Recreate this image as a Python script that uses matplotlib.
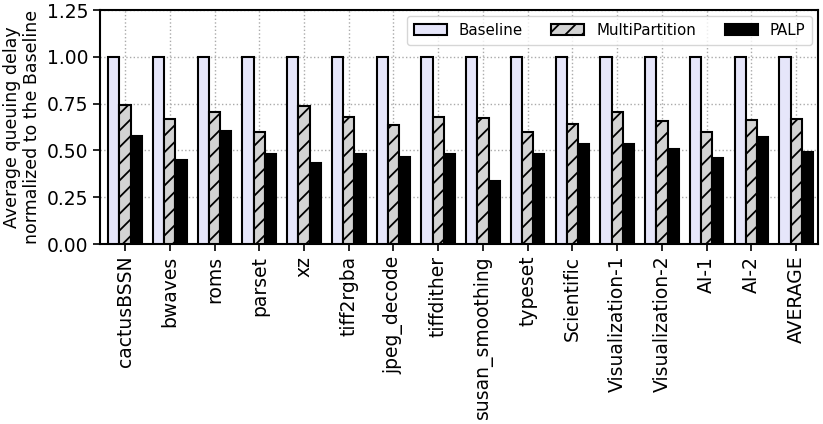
import matplotlib
matplotlib.use("Agg")
import matplotlib.pyplot as plt
import numpy as np

categories = ["cactusBSSN", "bwaves", "roms", "parset", "xz", "tiff2rgba",
              "jpeg_decode", "tiffdither", "susan_smoothing", "typeset",
              "Scientific", "Visualization-1", "Visualization-2", "AI-1",
              "AI-2", "AVERAGE"]
baseline = [1.0] * 16
multipartition = [0.745, 0.67, 0.705, 0.60, 0.74, 0.68, 0.635, 0.68, 0.672,
                  0.60, 0.64, 0.706, 0.659, 0.60, 0.663, 0.668]
palp = [0.575, 0.45, 0.605, 0.48, 0.435, 0.48, 0.465, 0.481, 0.337, 0.481,
        0.533, 0.536, 0.506, 0.458, 0.574, 0.494]

plt.rcParams['hatch.linewidth'] = 1.3
fig = plt.figure(figsize=(8.23, 4.24), dpi=100)
ax = fig.add_axes([0.1215, 0.4245, 0.8725, 0.5515])

x = np.arange(len(categories))
w = 0.25
ax.bar(x - w, baseline, w, color="#e6e6fa", edgecolor="black", linewidth=1.5,
       label="Baseline", zorder=3)
ax.bar(x, multipartition, w, color="#d3d3d3", edgecolor="black", linewidth=1.5,
       hatch="//", label="MultiPartition", zorder=3)
ax.bar(x + w, palp, w, color="black", edgecolor="black", linewidth=1.5,
       label="PALP", zorder=3)

ax.set_xlim(-0.56, 15.49)
ax.set_ylim(0, 1.25)
ax.set_yticks([0, 0.25, 0.5, 0.75, 1.0, 1.25])
ax.set_yticklabels(["0.00", "0.25", "0.50", "0.75", "1.00", "1.25"], fontsize=13.5)
ax.set_xticks(x)
ax.set_xticklabels(categories, rotation=90, fontsize=13.5)
ax.set_ylabel("Average queuing delay\nnormalized to the Baseline", fontsize=12.5,
              linespacing=1.15)
ax.grid(True, linestyle=":", color="#aaaaaa", linewidth=1.0, zorder=0)
for s in ax.spines.values():
    s.set_linewidth(1.5)
ax.tick_params(width=1.2, length=5)
ax.legend(loc="upper right", ncol=3, fontsize=10.8, handlelength=2.2,
          handletextpad=0.8, columnspacing=1.9, borderaxespad=0.4,
          borderpad=0.45)

fig.savefig("out.png", dpi=100)
